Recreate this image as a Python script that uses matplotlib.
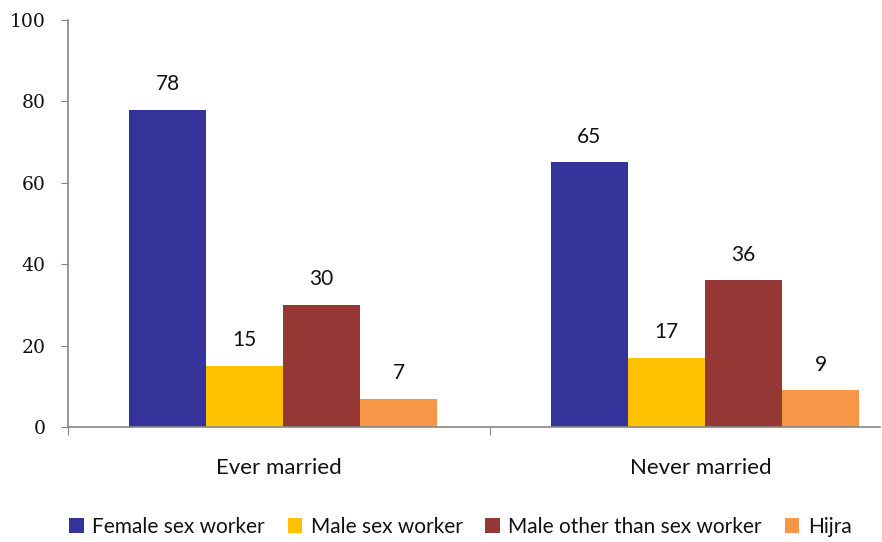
import numpy as np
import matplotlib.pyplot as plt

plt.rcParams["font.family"] = ["Lato", "DejaVu Sans"]

categories = ["Ever married", "Never married"]
series_names = ["Female sex worker", "Male sex worker",
                "Male other than sex worker", "Hijra"]
female_sw = [78, 65]
male_sw = [15, 17]
male_other = [30, 36]
hijra = [7, 9]
colors = ["#333399", "#FFC000", "#953735", "#F79646"]

values = [female_sw, male_sw, male_other, hijra]

fig = plt.figure(figsize=(8.82, 5.42), dpi=100)
ax = fig.add_axes([68 / 882, 1 - 427 / 542, 812 / 882, 407 / 542])

x = np.arange(len(categories))
w = 0.1825
for i, (name, vals, c) in enumerate(zip(series_names, values, colors)):
    bars = ax.bar(x + (i - 1.5) * w + 0.0095, vals, w, color=c, label=name,
                  edgecolor="none", zorder=2)
    for b, v in zip(bars, vals):
        ax.text(b.get_x() + b.get_width() / 2, v + 3.8, str(v),
                ha="center", va="bottom", fontsize=15, color="#111111")

ax.set_xlim(-0.5, 1.4242)
ax.set_ylim(0, 100)
ax.set_yticks(range(0, 101, 20))
ax.set_yticklabels([str(t) for t in range(0, 101, 20)],
                   fontfamily="DejaVu Serif", fontsize=13.5, color="#111111")

# category boundaries get the tick marks, labels sit in the middle
ax.set_xticks([-0.5, 0.5])
ax.set_xticklabels([])
ax.set_xticks(x, minor=True)
ax.set_xticklabels(categories, minor=True, fontsize=16, color="#111111")
ax.tick_params(axis="x", which="minor", length=0, pad=22)
ax.tick_params(axis="x", which="major", length=6, color="#868686", direction="out")
ax.tick_params(axis="y", length=5, color="#868686", pad=11)

for side in ["top", "right"]:
    ax.spines[side].set_visible(False)
for side in ["left", "bottom"]:
    ax.spines[side].set_color("#868686")
    ax.spines[side].set_linewidth(1.2)

fig.legend(loc="center", bbox_to_anchor=(0.522, 0.028), ncol=4, frameon=False,
           fontsize=15, handlelength=0.7, handleheight=0.7, handletextpad=0.4,
           columnspacing=1.1, labelcolor="#111111", borderpad=0)

fig.savefig("out.png", dpi=100)
